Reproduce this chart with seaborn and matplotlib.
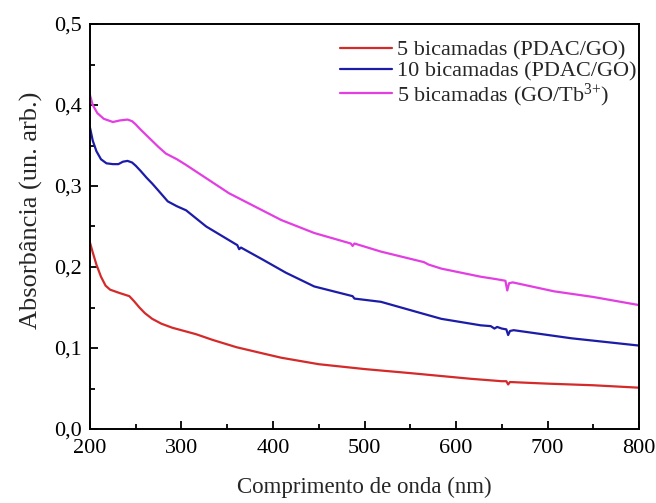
import numpy as np
import pandas as pd
import matplotlib
matplotlib.use("Agg")
import matplotlib.pyplot as plt
from matplotlib.ticker import MultipleLocator, FuncFormatter
import seaborn as sns

# --- data ---
wl_red = [200, 203, 207, 212, 217, 222, 232, 243, 248, 254, 260, 268, 278, 290, 316, 334, 360, 390,
          409, 450, 500, 550, 616, 650, 655, 657, 659, 700, 750, 800]
abs_red = [0.230, 0.218, 0.203, 0.188, 0.177, 0.172, 0.168, 0.164, 0.158, 0.150, 0.143, 0.136,
           0.130, 0.125, 0.117, 0.110, 0.101, 0.093, 0.088, 0.080, 0.074, 0.069, 0.062, 0.059,
           0.059, 0.055, 0.058, 0.056, 0.054, 0.051]

wl_blue = [200, 203, 207, 212, 218, 225, 231, 236, 241, 246, 250, 255, 262, 268, 275, 285, 295,
           305, 327, 358, 361, 363, 365, 389, 414, 445, 487, 489, 518, 565, 584, 627, 638, 642,
           645, 650, 655, 657, 659, 663, 726, 800]
abs_blue = [0.372, 0.356, 0.343, 0.333, 0.328, 0.327, 0.327, 0.330, 0.331, 0.329, 0.325, 0.319,
            0.310, 0.303, 0.294, 0.281, 0.275, 0.270, 0.250, 0.229, 0.227, 0.222, 0.224, 0.209,
            0.193, 0.176, 0.164, 0.161, 0.157, 0.142, 0.136, 0.128, 0.127, 0.124, 0.126, 0.124,
            0.123, 0.116, 0.121, 0.122, 0.112, 0.103]

wl_mag = [200, 203, 208, 215, 225, 233, 241, 246, 250, 255, 265, 275, 283, 295, 305, 352, 409,
          445, 485, 487, 489, 518, 565, 570, 584, 627, 644, 654, 656, 658, 662, 707, 750, 800]
abs_mag = [0.412, 0.400, 0.390, 0.383, 0.379, 0.381, 0.382, 0.380, 0.376, 0.370, 0.359, 0.348,
           0.340, 0.333, 0.326, 0.291, 0.258, 0.242, 0.229, 0.226, 0.229, 0.219, 0.206, 0.203,
           0.198, 0.188, 0.185, 0.183, 0.171, 0.180, 0.181, 0.170, 0.163, 0.153]

labels = ["5 bicamadas (PDAC/GO)", "10 bicamadas (PDAC/GO)", "5 bicamadas (GO/Tb$^{3{+}}$)"]
colors = ["#d42a2a", "#1c1ca8", "#e23ee2"]

df = pd.concat([
    pd.DataFrame({"wl": wl_red, "A": abs_red, "s": labels[0]}),
    pd.DataFrame({"wl": wl_blue, "A": abs_blue, "s": labels[1]}),
    pd.DataFrame({"wl": wl_mag, "A": abs_mag, "s": labels[2]}),
], ignore_index=True)

sns.set_theme(style="ticks")
plt.rcParams["font.family"] = ["Liberation Serif", "DejaVu Serif"]
plt.rcParams["mathtext.fontset"] = "custom"
plt.rcParams["mathtext.rm"] = "Liberation Serif"
plt.rcParams["mathtext.default"] = "regular"

fig = plt.figure(figsize=(6.56, 5.03), dpi=100)
ax = fig.add_axes([90 / 656, 1 - 429 / 503, (639 - 90) / 656, (429 - 24) / 503])

sns.lineplot(data=df, x="wl", y="A", hue="s", palette=colors, hue_order=labels,
             estimator=None, sort=False, linewidth=1.6, ax=ax)

ax.set_xlim(200, 800)
ax.set_ylim(0, 0.5)
ax.xaxis.set_major_locator(MultipleLocator(100))
ax.xaxis.set_minor_locator(MultipleLocator(50))
ax.yaxis.set_major_locator(MultipleLocator(0.1))
ax.yaxis.set_minor_locator(MultipleLocator(0.05))
ax.xaxis.set_major_formatter(FuncFormatter(lambda v, p: f"{v:.0f}"))
ax.yaxis.set_major_formatter(FuncFormatter(lambda v, p: f"{v:.1f}".replace(".", ",")))
ax.tick_params(which="both", direction="in", top=False, right=False, colors="black",
               labelsize=16, width=1.3)
ax.tick_params(which="major", length=6)
ax.tick_params(which="minor", length=3.5)
ax.tick_params(axis="x", which="major", pad=7)
ax.tick_params(axis="y", which="major", pad=6)
for sp in ax.spines.values():
    sp.set_linewidth(1.4)
    sp.set_color("black")

ax.set_xlabel("Comprimento de onda (nm)", fontsize=16.5, labelpad=14)
ax.set_ylabel("Absorbância (un. arb.)", fontsize=19)
ax.yaxis.set_label_coords(-0.085, 0.54)

leg = ax.legend(loc="upper right", frameon=False, fontsize=16, handlelength=2.3,
                handletextpad=0.25, labelspacing=0.0, borderaxespad=0.2,
                bbox_to_anchor=(1.02, 0.993))

fig.savefig("out.png", dpi=100)
